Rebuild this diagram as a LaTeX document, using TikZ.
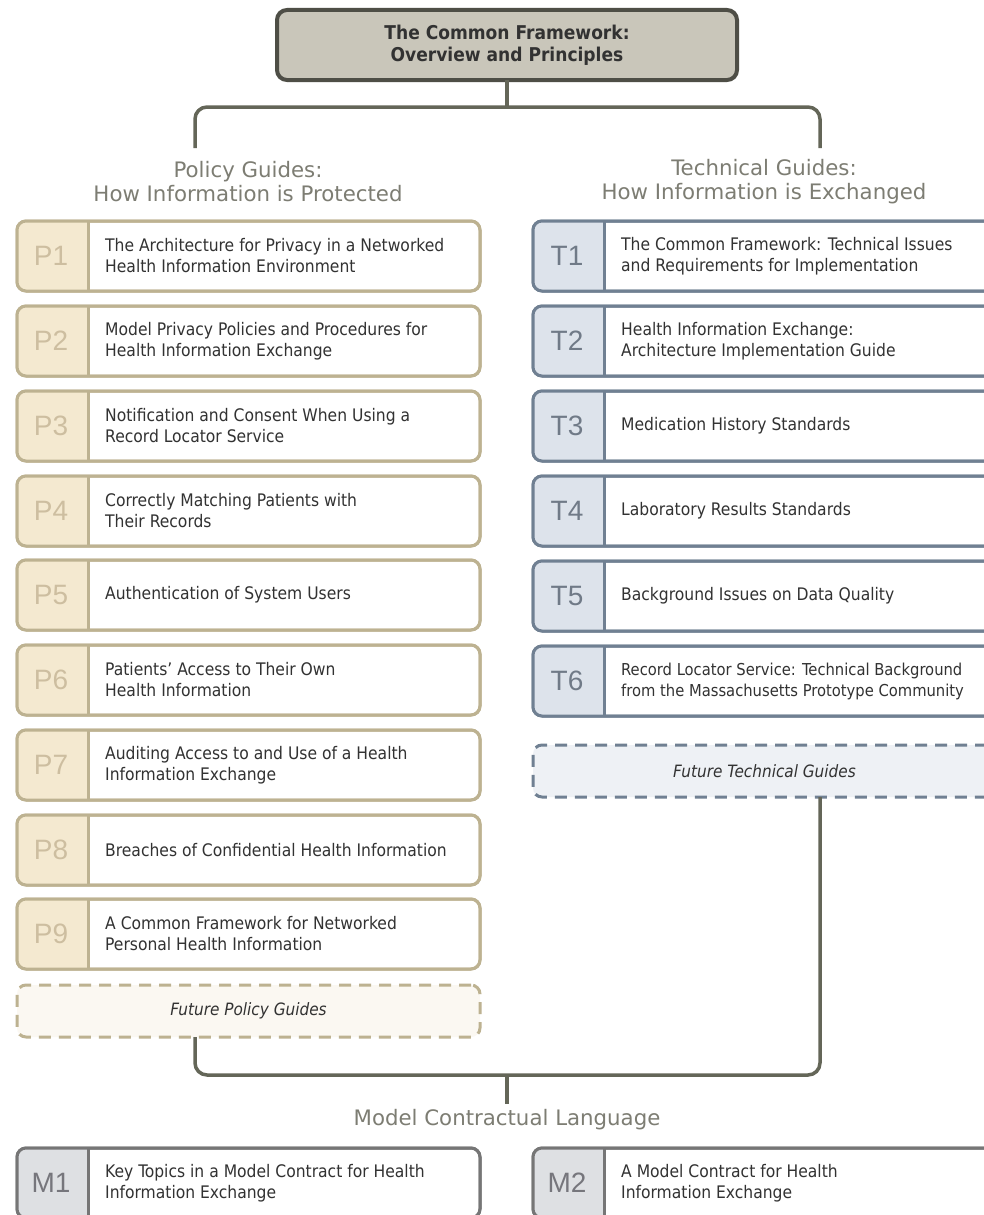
\documentclass[tikz,border=0pt]{standalone}
\usepackage{fontspec}
\setmainfont{DejaVu Sans Condensed}
\newfontfamily\labfont{Liberation Sans}
\newfontfamily\headfont{DejaVu Sans}
\definecolor{connc}{RGB}{100,102,88}
\definecolor{topfill}{RGB}{201,198,186}
\definecolor{topbord}{RGB}{78,78,70}
\definecolor{pbord}{RGB}{189,178,145}
\definecolor{ptab}{RGB}{244,233,208}
\definecolor{plab}{RGB}{205,190,160}
\definecolor{pfut}{RGB}{251,248,242}
\definecolor{tbord}{RGB}{112,128,146}
\definecolor{ttab}{RGB}{221,227,235}
\definecolor{tlab}{RGB}{112,122,135}
\definecolor{tfut}{RGB}{238,241,245}
\definecolor{mbord}{RGB}{118,118,118}
\definecolor{mtab}{RGB}{222,224,227}
\definecolor{mlab}{RGB}{118,118,124}
\definecolor{txt}{RGB}{50,50,50}
\definecolor{headc}{RGB}{125,125,115}
\tikzset{
  conn/.style={draw=connc, line width=3.5pt, rounded corners=12pt},
  framebase/.style={line width=3pt, rounded corners=9pt, minimum width=463pt, minimum height=70pt, inner sep=0pt, outer sep=0pt, anchor=north west, fill=white},
  pframe/.style={framebase, draw=pbord},
  tframe/.style={framebase, draw=tbord},
  mframe/.style={framebase, draw=mbord},
  pedge/.style={draw=pbord, line width=3pt, rounded corners=9pt},
  tedge/.style={draw=tbord, line width=3pt, rounded corners=9pt},
  medge/.style={draw=mbord, line width=3pt, rounded corners=9pt},
  labbase/.style={font=\labfont\fontsize{28}{28}\selectfont, inner sep=0pt},
  plab/.style={labbase, text=plab},
  tlab/.style={labbase, text=tlab},
  mlab/.style={labbase, text=mlab},
  itemtext/.style={font=\fontsize{17.3}{21}\selectfont, text=txt, align=left, anchor=west, inner sep=0pt},
  heading/.style={font=\headfont\fontsize{21.3}{24}\selectfont, text=headc, align=center, inner sep=0pt},
  futbase/.style={line width=3pt, rounded corners=9pt, dash pattern=on 12pt off 8pt, minimum width=463pt, minimum height=52pt, inner sep=0pt, outer sep=0pt, anchor=north west, font=\itshape\fontsize{17}{19}\selectfont, text=txt},
}
\newcommand\guideitem[6]{% name, x, y, kind, label, text
  \node[#4frame] (#1) at (#2,#3) {};
  \begin{scope}
    \clip[rounded corners=9pt] (#1.north west) rectangle (#1.south east);
    \fill[#4tab] (#1.north west) rectangle ([xshift=71pt]#1.south west);
  \end{scope}
  \draw[#4edge] (#1.north west) rectangle (#1.south east);
  \draw[#4edge] ([xshift=71pt]#1.north west) -- ([xshift=71pt]#1.south west);
  \node[#4lab] (#1l) at ([xshift=34pt]#1.west) {#5};
  \node[itemtext] (#1t) at ([xshift=88pt]#1.west) {#6};
}
\newcommand\smallline{\fontsize{16.4}{21}\selectfont}
\begin{document}
\begin{tikzpicture}[x=1pt,y=-1pt]
\clip (0,0) rectangle (984,1215);
\fill[white] (0,0) rectangle (984,1215);
% top
\node[draw=topbord, fill=topfill, line width=4pt, rounded corners=10pt, minimum width=460pt, minimum height=70pt, inner sep=0pt, outer sep=0pt, anchor=north west, font=\bfseries\fontsize{19}{22}\selectfont, text=txt, align=center] (top) at (277,10) {The Common Framework:\\Overview and Principles};
\coordinate (lhook) at (195,148);
\coordinate (rhook) at (820,148);
\coordinate (bar) at (507,107);
\draw[conn] (top.south -| bar) -- (bar);
\draw[conn] (lhook) -- (195,107) -- (820,107) -- (rhook);
\node[heading] (phead) at (248,182) {Policy Guides:\\How Information is Protected};
\node[heading] (thead) at (764,182) {Technical Guides:\\How Information is Exchanged};
% policy
\guideitem{p1}{17}{221}{p}{P1}{The Architecture for Privacy in a Networked\\Health Information Environment}
\guideitem{p2}{17}{306}{p}{P2}{Model Privacy Policies and Procedures for\\Health Information Exchange}
\guideitem{p3}{17}{391}{p}{P3}{Notification and Consent When Using a\\Record Locator Service}
\guideitem{p4}{17}{476}{p}{P4}{Correctly Matching Patients with\\Their Records}
\guideitem{p5}{17}{560}{p}{P5}{Authentication of System Users}
\guideitem{p6}{17}{645}{p}{P6}{Patients' Access to Their Own\\Health Information}
\guideitem{p7}{17}{730}{p}{P7}{Auditing Access to and Use of a Health\\Information Exchange}
\guideitem{p8}{17}{815}{p}{P8}{Breaches of Confidential Health Information}
\guideitem{p9}{17}{899}{p}{P9}{A Common Framework for Networked\\Personal Health Information}
\node[futbase, draw=pbord, fill=pfut] (pfuture) at (17,985) {Future Policy Guides};
% technical
\guideitem{t1}{533}{221}{t}{T1}{The Common Framework: Technical Issues\\and Requirements for Implementation}
\guideitem{t2}{533}{306}{t}{T2}{Health Information Exchange:\\Architecture Implementation Guide}
\guideitem{t3}{533}{391}{t}{T3}{Medication History Standards}
\guideitem{t4}{533}{476}{t}{T4}{Laboratory Results Standards}
\guideitem{t5}{533}{561}{t}{T5}{Background Issues on Data Quality}
\guideitem{t6}{533}{646}{t}{T6}{\smallline Record Locator Service: Technical Background\\\smallline from the Massachusetts Prototype Community}
\node[futbase, draw=tbord, fill=tfut] (tfuture) at (533,745) {Future Technical Guides};
% bottom connectors
\coordinate (bbar) at (507,1075);
\coordinate (mhook) at (507,1104);
\draw[conn] (pfuture.south -| lhook) -- (195,1075) -- (820,1075) -- (tfuture.south -| rhook);
\draw[conn] (bbar) -- (mhook);
\node[heading] (mhead) at (507,1120) {Model Contractual Language};
\guideitem{m1}{17}{1148}{m}{M1}{Key Topics in a Model Contract for Health\\Information Exchange}
\guideitem{m2}{533}{1148}{m}{M2}{A Model Contract for Health\\Information Exchange}
\end{tikzpicture}
\end{document}
